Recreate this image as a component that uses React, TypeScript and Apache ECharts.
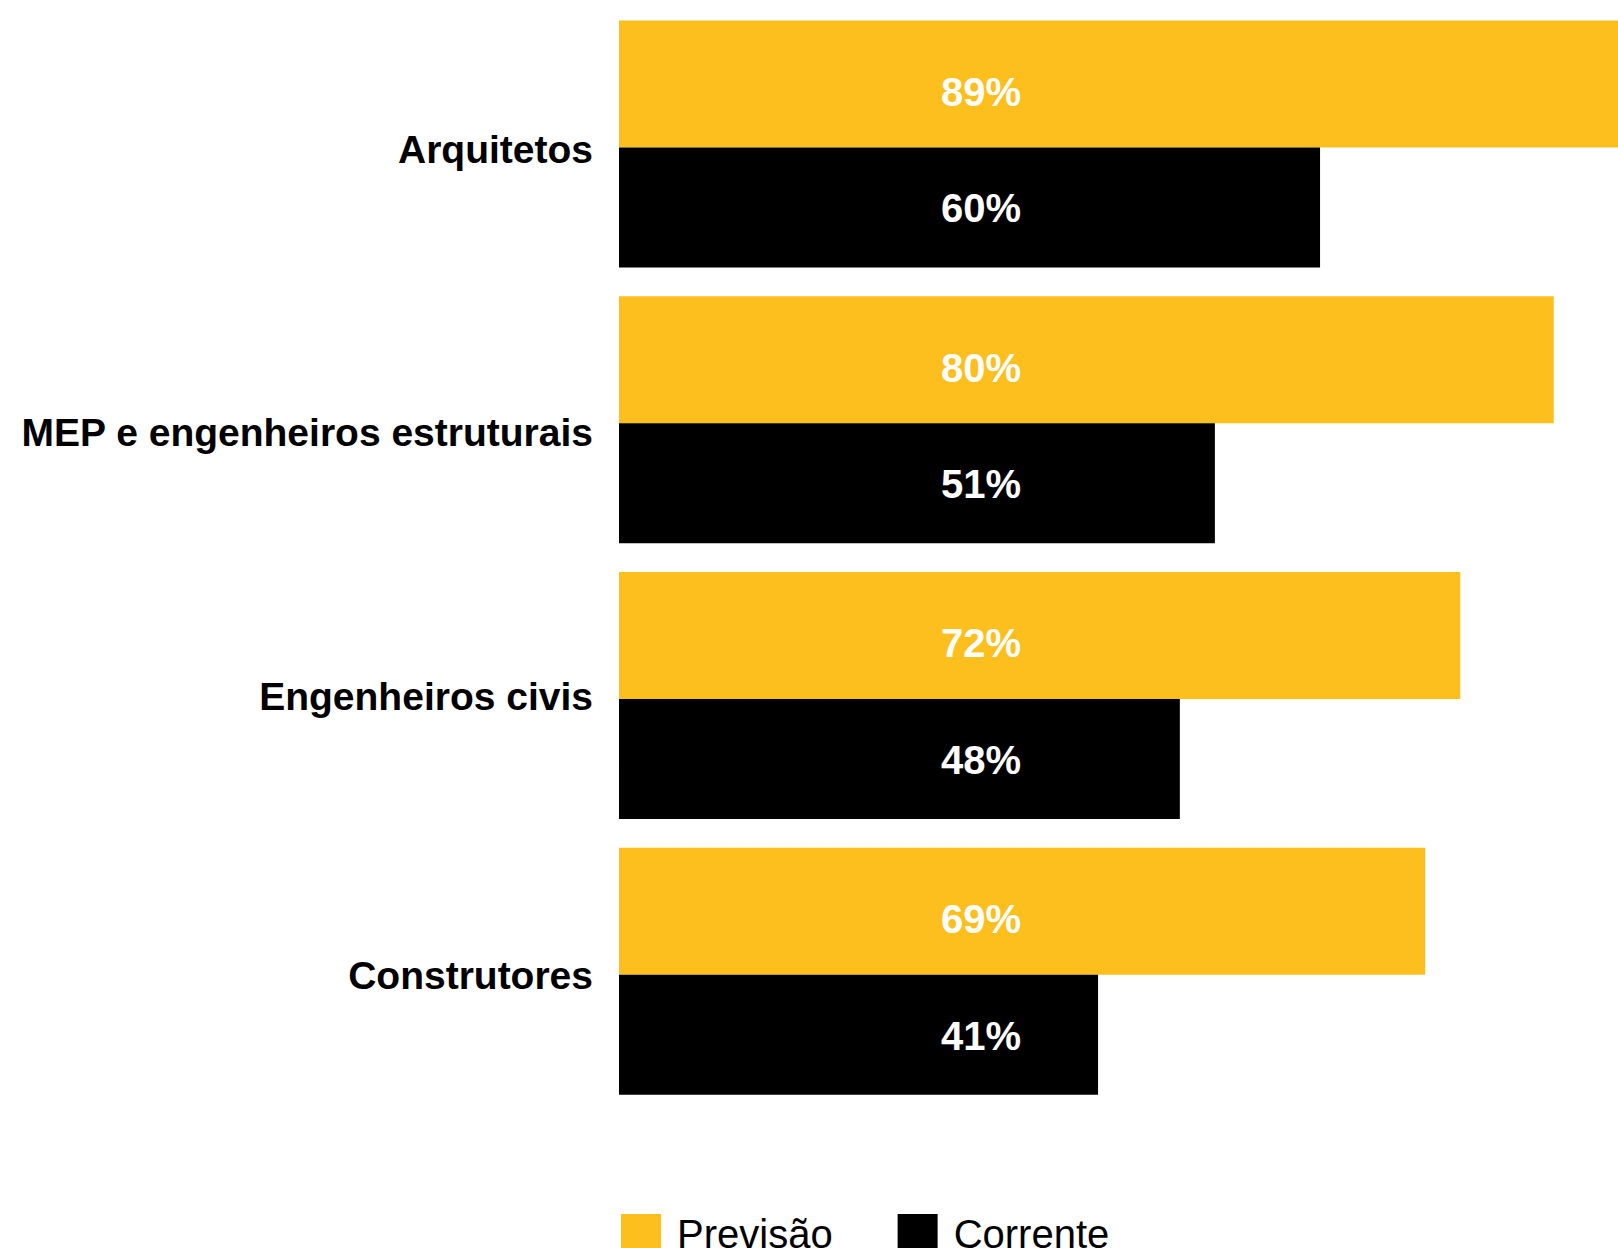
import React, { useEffect, useRef } from "react";
import * as echarts from "echarts";

const categories = ["Arquitetos", "MEP e engenheiros estruturais", "Engenheiros civis", "Construtores"];
const previsao = [89, 80, 72, 69];
const corrente = [60, 51, 48, 41];
const seriesNames = ["Previsão", "Corrente"];

const YELLOW = "#FDBF1E";
const BLACK = "#000000";
const FONT = "'Liberation Sans', Arial, Helvetica, sans-serif";

export default function App() {
  const ref = useRef<HTMLDivElement>(null);
  useEffect(() => {
    if (!ref.current) return;
    const chart = echarts.init(ref.current, undefined, { renderer: "svg" });
    const labelBase = {
      show: true,
      position: [362, "50%"] as any,
      align: "center",
      verticalAlign: "middle",
      color: "#ffffff",
      fontFamily: FONT,
      fontWeight: "bold",
      fontSize: 40,
      formatter: (p: any) => `${p.value}%`,
    };
    const catStyle = (pad: number) => ({
      color: "#000000",
      fontFamily: FONT,
      fontWeight: "bold",
      fontSize: 39,
      padding: [pad, 0, 0, 0],
    });
    const pads = [11, 26, 2, 8];
    const rich: Record<string, any> = {};
    pads.forEach((p, i) => {
      rich["c" + i] = catStyle(p);
    });
    chart.setOption({
      animation: false,
      backgroundColor: "#ffffff",
      textStyle: { fontFamily: FONT },
      grid: { left: 619, right: 0, top: 6, height: 1103, containLabel: false },
      xAxis: {
        type: "value",
        min: 0,
        max: 85.5,
        show: false,
        splitLine: { show: false },
      },
      yAxis: {
        type: "category",
        data: categories,
        inverse: true,
        axisLine: { show: false },
        axisTick: { show: false },
        splitLine: { show: false },
        axisLabel: {
          margin: 26,
          color: "#000000",
          fontFamily: FONT,
          fontWeight: "bold",
          fontSize: 39,
          formatter: (v: string, i: number) => `{c${i}|${v}}`,
          rich,
        },
      },
      legend: {
        data: seriesNames,
        left: 621,
        top: 1214,
        padding: 0,
        itemWidth: 40,
        itemHeight: 40,
        itemGap: 65,
        icon: "rect",
        textStyle: {
          color: "#000000",
          fontFamily: FONT,
          fontSize: 40,
          padding: [0, 0, 0, 11],
        },
      },
      series: [
        {
          name: seriesNames[0],
          type: "bar",
          data: previsao,
          barWidth: 127,
          barGap: "0%",
          itemStyle: { color: YELLOW },
          label: { ...labelBase, offset: [0, 8] },
        },
        {
          name: seriesNames[1],
          type: "bar",
          data: corrente,
          barWidth: 120,
          barGap: "0%",
          itemStyle: { color: BLACK },
          label: { ...labelBase, offset: [0, 1] },
        },
      ],
    });
    return () => chart.dispose();
  }, []);
  return (
    <div
      ref={ref}
      style={{ position: "fixed", left: 0, top: 0, width: 1618, height: 1248 }}
    />
  );
}
